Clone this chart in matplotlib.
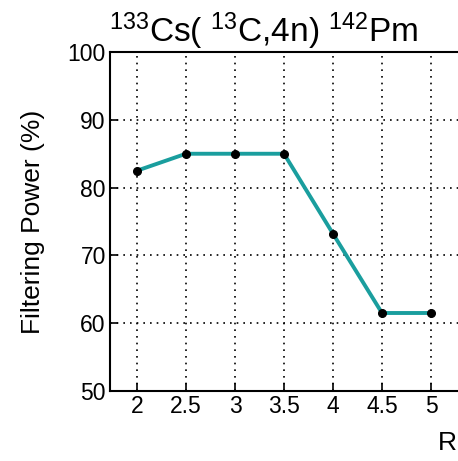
import matplotlib
matplotlib.use('Agg')
import matplotlib.pyplot as plt

plt.rcParams['font.family'] = ['Liberation Sans', 'DejaVu Sans']
plt.rcParams['mathtext.fontset'] = 'custom'
plt.rcParams['mathtext.rm'] = 'Liberation Sans'
plt.rcParams['mathtext.it'] = 'Liberation Sans'

r_values = [2, 2.5, 3, 3.5, 4, 4.5, 5]
filtering_power = [82.5, 85, 85, 85, 73.2, 61.5, 61.5]
x_ticks = [2, 2.5, 3, 3.5, 4, 4.5, 5]
y_ticks = [50, 60, 70, 80, 90, 100]

fig = plt.figure(figsize=(4.58, 4.61), dpi=100)
ax = fig.add_axes([0.240, 0.152, 0.808, 0.735])

ax.plot(r_values, filtering_power, color='#1a9e9e', lw=2.8, zorder=3)
ax.plot(r_values, filtering_power, 'o', color='black', ms=5.5, zorder=4)

ax.set_xlim(1.724, 5.5)
ax.set_ylim(50, 100)
ax.set_xticks(x_ticks)
ax.set_xticklabels(['2', '2.5', '3', '3.5', '4', '4.5', '5'])
ax.set_yticks(y_ticks)
ax.tick_params(direction='in', length=6, width=1.2, labelsize=16.5, pad=3)
ax.grid(True, color='black', linestyle=(0, (1, 3)), linewidth=1.2)
for s in ax.spines.values():
    s.set_linewidth(1.5)

ax.set_ylabel('Filtering Power (%)', fontsize=19, labelpad=16)
fig.text(0.976, 0.04, 'R', fontsize=19, ha='center', va='center')
fig.text(0.575, 0.932, r'$^{133}$Cs( $^{13}$C,4n) $^{142}$Pm', fontsize=24,
         ha='center', va='center')

fig.savefig('out.png', dpi=100)
